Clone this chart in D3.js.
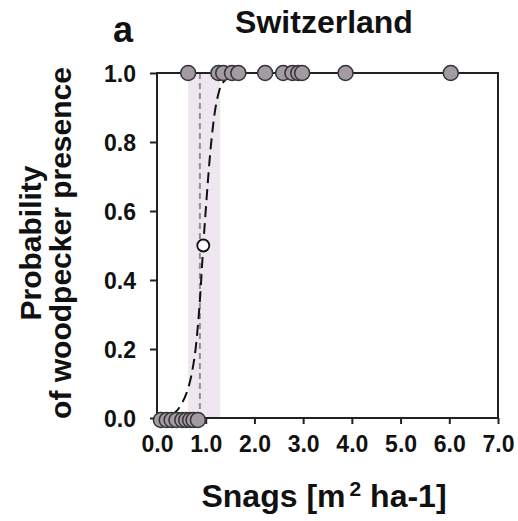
<!DOCTYPE html>
<html>
<head>
<meta charset="utf-8">
<script src="https://cdn.jsdelivr.net/npm/d3@7"></script>
<style>
  body { margin: 0; background: #fff; }
  text { font-family: "Liberation Sans", Arial, sans-serif; font-weight: bold; fill: #111; }
</style>
</head>
<body>
<svg id="chart" width="518" height="521"></svg>
<script>
// snag volume of sites where woodpecker was present / absent
var present = [0.64, 1.26, 1.36, 1.54, 1.67, 2.22, 2.59, 2.78, 2.90, 2.98, 3.87, 6.03]
var absent = [0.08, 0.20, 0.30, 0.40, 0.52, 0.60, 0.68, 0.75, 0.84]

// fitted logistic curve
var curveX = [0.30, 0.40, 0.50, 0.60, 0.70, 0.80, 0.88, 0.95, 1.02, 1.10, 1.18, 1.28, 1.40, 1.55, 1.75]
var curveP = [0.01, 0.02, 0.04, 0.07, 0.12, 0.21, 0.34, 0.50, 0.64, 0.78, 0.88, 0.95, 0.98, 0.995, 1.0]

// threshold (p = 0.5) and its confidence band
var threshold = [0.95, 0.5]
var thresholdLine = 0.88
var band = [0.64, 1.30]

var xTicks = [0, 1, 2, 3, 4, 5, 6, 7]
var yTicks = [0, 0.2, 0.4, 0.6, 0.8, 1.0]

var svg = d3.select("#chart")
var margin = {left: 157, top: 73, right: 20, bottom: 103}
var width = 518 - margin.left - margin.right,
	height = 521 - margin.top - margin.bottom

var x = d3.scaleLinear().domain([0, 7]).range([0, width])
var y = d3.scaleLinear().domain([0, 1]).range([height, 0])

var g = svg.append("g").attr("transform", "translate(" + margin.left + "," + margin.top + ")")

// confidence band
g.append("rect")
	.attr("x", x(band[0]))
	.attr("y", 0)
	.attr("width", x(band[1]) - x(band[0]))
	.attr("height", height)
	.attr("fill", "#eee7ef")

// threshold vertical line
g.append("line")
	.attr("x1", x(thresholdLine)).attr("x2", x(thresholdLine))
	.attr("y1", 0).attr("y2", height)
	.attr("stroke", "#8c8f8c")
	.attr("stroke-width", 2)
	.attr("stroke-dasharray", "6,4")

// frame
g.append("rect")
	.attr("width", width).attr("height", height)
	.attr("fill", "none")
	.attr("stroke", "#222")
	.attr("stroke-width", 2)

// axes
var xAxis = g.append("g")
	.attr("transform", "translate(0," + height + ")")
	.call(d3.axisBottom(x).tickValues(xTicks).tickFormat(d3.format(".1f")).tickSize(6).tickPadding(12))
var yAxis = g.append("g")
	.call(d3.axisLeft(y).tickValues(yTicks).tickFormat(d3.format(".1f")).tickSize(7).tickPadding(14))

g.selectAll(".domain").remove()
g.selectAll(".tick line").attr("stroke", "#222").attr("stroke-width", 2)
g.selectAll(".tick text")
	.style("font-size", "23px")
	.style("font-family", "'Liberation Sans', Arial, sans-serif")
	.style("font-weight", "bold")
	.attr("fill", "#111")
yAxis.selectAll(".tick text").attr("dy", "0.36em")

// fitted curve
var line = d3.line()
	.x(function(d) { return x(d[0]) })
	.y(function(d) { return y(d[1]) })
	.curve(d3.curveMonotoneX)

g.append("path")
	.datum(curveX.map(function(v, i) { return [v, curveP[i]] }))
	.attr("d", line)
	.attr("fill", "none")
	.attr("stroke", "#111")
	.attr("stroke-width", 2)
	.attr("stroke-dasharray", "11,6")

// observations
g.selectAll(".abs").data(absent).enter().append("circle")
	.attr("cx", function(d) { return x(d) })
	.attr("cy", y(0) + 2)
	.attr("r", 7.5)
	.attr("fill", "#a49aa2")
	.attr("stroke", "#333")
	.attr("stroke-width", 1.5)

g.selectAll(".pres").data(present).enter().append("circle")
	.attr("cx", function(d) { return x(d) })
	.attr("cy", y(1))
	.attr("r", 7.5)
	.attr("fill", "#a49aa2")
	.attr("stroke", "#333")
	.attr("stroke-width", 1.5)

// threshold point
g.append("circle")
	.attr("cx", x(threshold[0]))
	.attr("cy", y(threshold[1]))
	.attr("r", 6)
	.attr("fill", "#fff")
	.attr("stroke", "#111")
	.attr("stroke-width", 1.8)

// titles
svg.append("text")
	.attr("x", 113).attr("y", 42)
	.style("font-size", "36px")
	.text("a")

svg.append("text")
	.attr("x", 324).attr("y", 33)
	.attr("text-anchor", "middle")
	.style("font-size", "32px")
	.text("Switzerland")

var xl = svg.append("text")
	.attr("x", 324).attr("y", 507)
	.attr("text-anchor", "middle")
	.style("font-size", "32px")
xl.append("tspan").text("Snags [m")
xl.append("tspan").attr("dx", 4).attr("dy", -11).style("font-size", "21px").text("2")
xl.append("tspan").attr("dy", 11).text(" ha-1]")

var yl = svg.append("text")
	.attr("transform", "translate(0,243) rotate(-90)")
	.attr("text-anchor", "middle")
	.style("font-size", "30px")
yl.append("tspan").attr("x", 0).attr("y", 41).text("Probability")
yl.append("tspan").attr("x", 0).attr("y", 71).text("of woodpecker presence")
</script>
</body>
</html>
